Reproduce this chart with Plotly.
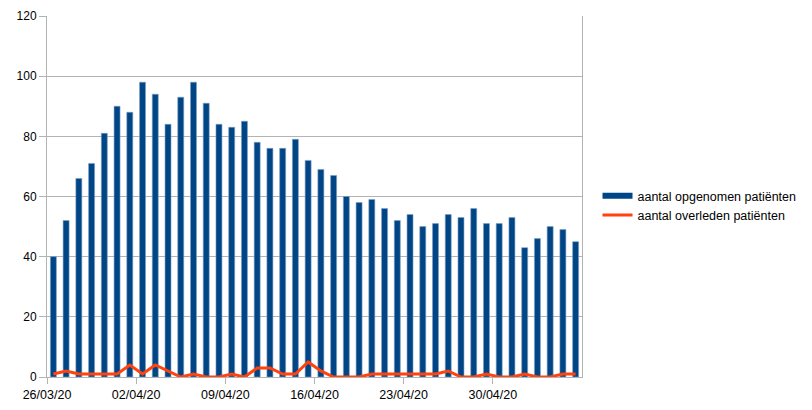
import pandas as pd
import plotly.graph_objects as go

start_date = "2020-03-26"
n_days = 42
dates = pd.date_range(start_date, periods=n_days, freq="D")

opgenomen = [40, 52, 66, 71, 81, 90, 88, 98, 94, 84, 93, 98, 91, 84, 83, 85, 78, 76, 76, 79, 72,
             69, 67, 60, 58, 59, 56, 52, 54, 50, 51, 54, 53, 56, 51, 51, 53, 43, 46, 50, 49, 45]
overleden = [1, 2, 1, 1, 1, 1, 4, 1, 4, 2, 0, 1, 0, 0, 1, 0, 3, 3, 1, 1, 5,
             2, 0, 0, 0, 1, 1, 1, 1, 1, 1, 2, 0, 0, 1, 0, 0, 1, 0, 0, 1, 1]

tick_dates = dates[::7]
y_ticks = [0, 20, 40, 60, 80, 100, 120]

DAY_MS = 86400000
grid = "#b3b3b3"
font = "Liberation Sans, Arial, sans-serif"
blue = "#004586"
red = "#ff420e"

fig = go.Figure()
fig.add_trace(go.Bar(
    x=dates, y=opgenomen, name="aantal opgenomen patiënten",
    marker=dict(color=blue, line=dict(color="#7f9fc2", width=0.6)),
    xperiod=DAY_MS, xperiodalignment="middle", showlegend=False,
))
# legend-only entry giving the wide rectangular swatch of the bar series
fig.add_trace(go.Scatter(
    x=[None], y=[None], name="aantal opgenomen patiënten", mode="lines",
    line=dict(color=blue, width=6), showlegend=True,
))
fig.add_trace(go.Scatter(
    x=dates, y=overleden, name="aantal overleden patiënten", mode="lines",
    line=dict(color=red, width=3),
    xperiod=DAY_MS, xperiodalignment="middle",
))

fig.update_layout(
    width=804, height=402,
    margin=dict(l=39, r=230, t=8, b=33, autoexpand=False),
    paper_bgcolor="white", plot_bgcolor="white",
    font=dict(family=font, size=12, color="#000000"),
    bargap=0.53,
    showlegend=True,
    legend=dict(x=1.029, y=0.475, xanchor="left", yanchor="middle",
                font=dict(size=12.5, color="#000000"), itemwidth=30,
                tracegroupgap=0, bgcolor="rgba(0,0,0,0)"),
)
fig.update_xaxes(
    type="date", range=[dates[0], dates[-1] + pd.Timedelta(days=1)],
    tickvals=tick_dates, tickformat="%d/%m/%y",
    showgrid=False, showline=True, linecolor=grid, linewidth=1,
    ticks="outside", ticklen=6, tickcolor=grid,
    tickfont=dict(size=12.5, color="#000000"), automargin=False,
)
fig.update_yaxes(
    range=[0, 120], tickvals=y_ticks,
    showgrid=True, gridcolor=grid, gridwidth=1,
    showline=True, linecolor=grid, linewidth=1, mirror=True,
    ticks="outside", ticklen=7, tickcolor=grid,
    tickfont=dict(size=12, color="#000000"),
    zeroline=False, automargin=False,
)

fig.write_html("out.html")
